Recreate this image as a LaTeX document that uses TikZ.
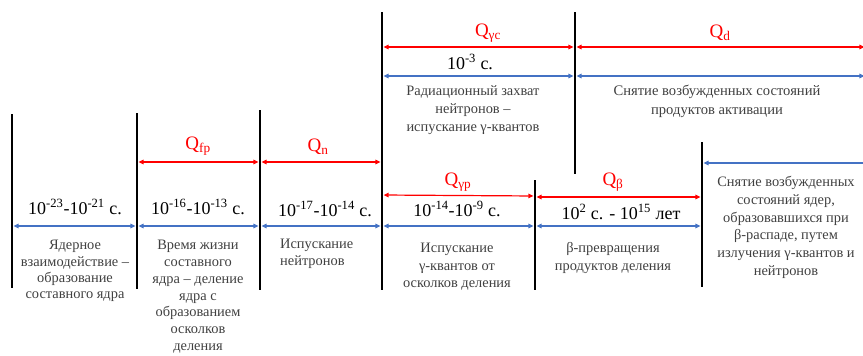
\documentclass[tikz,border=0pt]{standalone}
\usepackage{fontspec}
\setmainfont{Liberation Serif}
\usetikzlibrary{arrows.meta}
\definecolor{qred}{HTML}{FF0000}
\definecolor{tblue}{HTML}{4472C4}
\definecolor{dgray}{HTML}{404040}
\begin{document}
\begin{tikzpicture}[x=1pt,y=-1pt,
  bar/.style={line width=2.6pt,black},
  redarr/.style={qred,line width=1.2pt,{Triangle[length=5pt,width=4.5pt]}-{Triangle[length=5pt,width=4.5pt]},shorten <=1.6pt,shorten >=1.6pt},
  bluearr/.style={tblue,line width=1.2pt,{Triangle[length=5pt,width=4.5pt]}-{Triangle[length=5pt,width=4.5pt]},shorten <=1.6pt,shorten >=1.6pt},
  bluearrl/.style={tblue,line width=1.2pt,{Triangle[length=5pt,width=4.5pt]}-,shorten <=1.6pt},
  qlab/.style={text=qred,font=\fontsize{19}{22}\selectfont,inner sep=0pt},
  tlab/.style={text=black,font=\fontsize{18}{22}\selectfont,inner sep=0pt},
  dsc/.style={text=dgray,align=center,inner sep=0pt,anchor=north},
]
\useasboundingbox (0,0) rectangle (863,356);
% vertical bars
\coordinate (At) at (12,114);  \coordinate (Ab) at (12,288);
\coordinate (Bt) at (137,113); \coordinate (Bb) at (137,289);
\coordinate (Ct) at (260,110); \coordinate (Cb) at (260,290);
\coordinate (Dt) at (382,12);  \coordinate (Db) at (382,290);
\coordinate (Ft) at (575,12);  \coordinate (Fb) at (575,174);
\coordinate (Et) at (535,180); \coordinate (Eb) at (535,290);
\coordinate (Gt) at (702,142); \coordinate (Gb) at (702,287);
\draw[bar] (At) -- (Ab);
\draw[bar] (Bt) -- (Bb);
\draw[bar] (Ct) -- (Cb);
\draw[bar] (Dt) -- (Db);
\draw[bar] (Ft) -- (Fb);
\draw[bar] (Et) -- (Eb);
\draw[bar] (Gt) -- (Gb);
% arrow end points
\coordinate (B1) at (137,162); \coordinate (C1) at (260,162); \coordinate (D1) at (382,162);
\coordinate (D2) at (382,195); \coordinate (E2) at (535,196);
\coordinate (E3) at (535,197); \coordinate (G3) at (702,197);
\coordinate (D4) at (382,47);  \coordinate (F4) at (575,47); \coordinate (R4) at (866,47);
\coordinate (A5) at (12,226); \coordinate (B5) at (137,226); \coordinate (C5) at (260,226);
\coordinate (D5) at (382,226); \coordinate (E5) at (535,226); \coordinate (G5) at (702,226);
\coordinate (D6) at (382,76); \coordinate (F6) at (575,76); \coordinate (R6) at (866,76);
\coordinate (G7) at (702,163); \coordinate (R7) at (866,163);
% red arrows
\draw[redarr] (B1) -- (C1);
\draw[redarr] (C1) -- (D1);
\draw[redarr] (D2) -- (E2);
\draw[redarr] (E3) -- (G3);
\draw[redarr] (D4) -- (F4);
\draw[redarr] (F4) -- (R4);
% blue arrows
\draw[bluearr] (A5) -- (B5);
\draw[bluearr] (B5) -- (C5);
\draw[bluearr] (C5) -- (D5);
\draw[bluearr] (D5) -- (E5);
\draw[bluearr] (E5) -- (G5);
\draw[bluearr] (D6) -- (F6);
\draw[bluearr] (F6) -- (R6);
\draw[bluearrl] (G7) -- (R7);
% Q labels
\node[qlab] (qfp) at (198,146) {Q\textsubscript{fp}};
\node[qlab] (qn) at (318,147) {Q\textsubscript{n}};
\node[qlab] (qgp) at (458,182) {Q\textsubscript{γp}};
\node[qlab] (qb) at (613,182) {Q\textsubscript{β}};
\node[qlab] (qgc) at (488,33) {Q\textsubscript{γc}};
\node[qlab] (qd) at (720,33) {Q\textsubscript{d}};
% time labels
\node[tlab] (t1) at (75,207) {10\textsuperscript{-23}-10\textsuperscript{-21} с.};
\node[tlab] (t2) at (198,207) {10\textsuperscript{-16}-10\textsuperscript{-13} с.};
\node[tlab] (t3) at (325,209) {10\textsuperscript{-17}-10\textsuperscript{-14} с.};
\node[tlab] (t4) at (457,209) {10\textsuperscript{-14}-10\textsuperscript{-9} с.};
\node[tlab] (t5) at (621,212) {10\textsuperscript{2} с. - 10\textsuperscript{15} лет};
\node[tlab] (t6) at (470,62) {10\textsuperscript{-3} с.};
% descriptions
\node[dsc,font=\fontsize{14.4}{16.4}\selectfont] (d1) at (75,240) {Ядерное\\взаимодействие –\\образование\\составного ядра};
\node[dsc,font=\fontsize{14.4}{16.8}\selectfont] (d2) at (198,240) {Время жизни\\составного\\ядра – деление\\ядра с\\образованием\\осколков\\деления};
\node[dsc,align=left,anchor=north west,font=\fontsize{14.4}{17}\selectfont] (d3) at (280,239) {Испускание\\нейтронов};
\node[dsc,font=\fontsize{14.4}{17.5}\selectfont] (d4) at (457,243) {Испускание\\γ-квантов от\\осколков деления};
\node[dsc,font=\fontsize{14.4}{18}\selectfont] (d5) at (613,242) {β-превращения\\продуктов деления};
\node[dsc,font=\fontsize{14.4}{17.8}\selectfont] (d6) at (786,176) {Снятие возбужденных\\состояний ядер,\\образовавшихся при\\β-распаде, путем\\излучения γ-квантов и\\нейтронов};
\node[dsc,font=\fontsize{14.4}{18}\selectfont] (d7) at (473,85) {Радиационный захват\\нейтронов –\\испускание γ-квантов};
\node[dsc,font=\fontsize{14.6}{19}\selectfont] (d8) at (717,85) {Снятие возбужденных состояний\\продуктов активации};
\end{tikzpicture}
\end{document}
